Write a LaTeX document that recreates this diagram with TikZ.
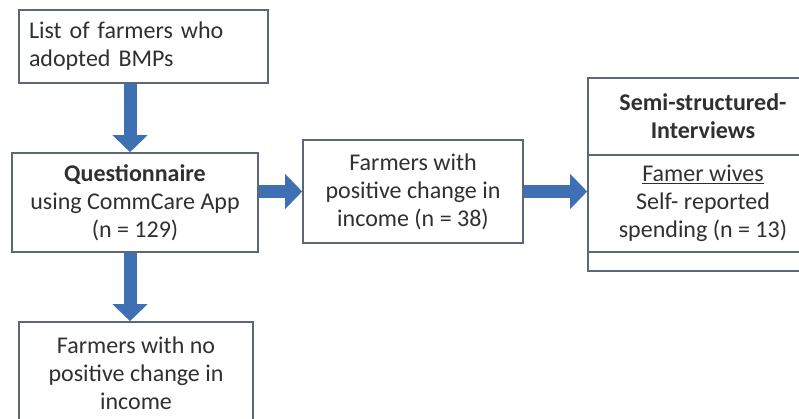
\documentclass[tikz,border=0pt]{standalone}
\usepackage{fontspec}
\setmainfont{Carlito}
\usetikzlibrary{arrows.meta}

\definecolor{boxline}{HTML}{5A6878}
\definecolor{flowblue}{HTML}{3F70B3}
\definecolor{txtgray}{HTML}{303030}

\tikzset{
  box/.style={draw=boxline, line width=1.6pt, fill=white, text=txtgray, inner sep=0pt,
    align=center, font=\fontsize{24}{28}\selectfont},
  flow/.style={flowblue, line width=13pt, -{Triangle[width=34pt,length=17pt]}}
}

\begin{document}
\begin{tikzpicture}[x=1pt,y=-1pt]
\useasboundingbox (0,0) rectangle (799,419);
\clip (0,0) rectangle (799,419);

% left column
\node[box, minimum width=249pt, minimum height=73pt, text width=229pt, align=left] (list) at (143.5,46.5) {List of farmers who\\adopted BMPs};
\node[box, minimum width=246pt, minimum height=99pt] (quest) at (135,202.5) {\textbf{Questionnaire}\\using CommCare App\\(n = 129)};
\node[box, minimum width=234pt, minimum height=102pt] (noneg) at (136,373) {Farmers with no\\positive change in\\income};

% middle
\node[box, minimum width=220pt, minimum height=103pt] (pos) at (413,191.5) {Farmers with\\positive change in\\income (n = 38)};

% interviews (cut off on the right)
\node[box, minimum width=230pt, minimum height=77pt] (semihead) at (703,116.5) {\textbf{Semi-structured-}\\\textbf{Interviews}};
\node[box, minimum width=230pt, minimum height=97pt] (semibody) at (703,203.5) {\underline{Famer wives}\\Self- reported\\spending (n = 13)};
\node[box, minimum width=230pt, minimum height=19pt] (semifoot) at (703,261.5) {};

% arrows
\coordinate (down1) at (130,0);
\draw[flow] (list.south -| down1) -- (quest.north -| down1);
\draw[flow] (quest.south -| down1) -- (noneg.north -| down1);
\draw[flow] (quest.east |- pos.west) -- (pos.west);
\draw[flow] (pos.east) -- (pos.east -| semibody.west);
\end{tikzpicture}
\end{document}
